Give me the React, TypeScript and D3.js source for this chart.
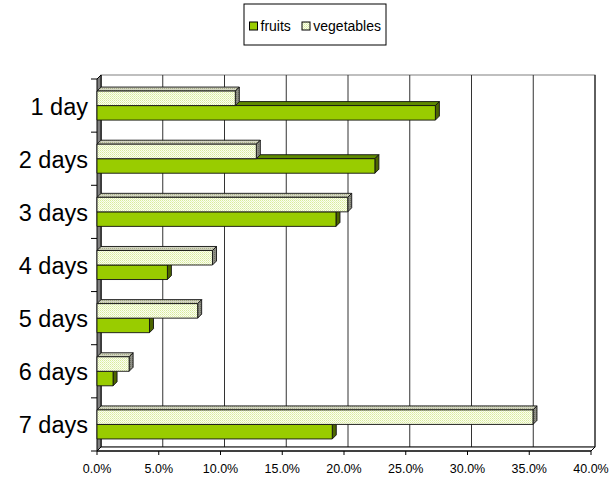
import { scaleBand, scaleLinear, format } from "d3";

// values, in percent
const categories = ["1 day", "2 days", "3 days", "4 days", "5 days", "6 days", "7 days"];
const fruits = [27.4, 22.5, 19.35, 5.7, 4.25, 1.3, 19.05];
const vegetables = [11.2, 12.9, 20.3, 9.35, 8.15, 2.6, 35.3];
const seriesNames = ["vegetables", "fruits"];
const xDomain = [0, 40];

const W = 615;
const H = 478;
const margin = { top: 79, right: 24, bottom: 27, left: 97 };
const depth = 4;

const fmt = format(".1f");

const colors: Record<string, { front: string; top: string; side: string }> = {
  fruits: { front: "#99cc00", top: "#5f8a00", side: "#4d6600" },
  vegetables: { front: "url(#vegFront)", top: "url(#vegTop)", side: "url(#vegSide)" },
};

interface BoxProps {
  x0: number;
  x1: number;
  y: number;
  h: number;
  name: string;
}

// one 3D bar: front, top and right faces
const Box: React.FC<BoxProps> = ({ x0, x1, y, h, name }) => {
  const c = colors[name];
  const d = depth;
  const top = `${x0},${y} ${x0 + d},${y - d} ${x1 + d},${y - d} ${x1},${y}`;
  const side = `${x1},${y} ${x1 + d},${y - d} ${x1 + d},${y + h - d} ${x1},${y + h}`;
  return (
    <g stroke="#111" strokeWidth={0.9} strokeLinejoin="round">
      <polygon points={top} fill={c.top} />
      <polygon points={side} fill={c.side} />
      <rect x={x0} y={y} width={x1 - x0} height={h} fill={c.front} />
    </g>
  );
};

const App = () => {
  const width = W - margin.left - margin.right;
  const height = H - margin.top - margin.bottom;
  const left = margin.left;
  const bottom = margin.top + height;

  const scaleX = scaleLinear().domain(xDomain).range([left, left + width]);
  const scaleY = scaleBand().domain(categories).range([margin.top, bottom]).padding(0);
  const inner = scaleBand()
    .domain(seriesNames)
    .range([0, scaleY.bandwidth()])
    .paddingInner(0)
    .paddingOuter(0.83);

  const ticks = scaleX.ticks(8);
  const boundaries = [...categories.map((c) => scaleY(c) as number), bottom];

  return (
    <svg
      width={W}
      height={H}
      style={{ position: "absolute", left: 0, top: 0, fontFamily: "'Liberation Sans', Arial, sans-serif" }}
    >
      <defs>
        <pattern id="vegFront" width={2} height={2} patternUnits="userSpaceOnUse">
          <rect width={2} height={2} fill="#fbfdf0" />
          <rect width={1} height={1} fill="#d8ec9c" />
          <rect x={1} y={1} width={1} height={1} fill="#e6f3bd" />
        </pattern>
        <pattern id="vegTop" width={2} height={2} patternUnits="userSpaceOnUse">
          <rect width={2} height={2} fill="#d2d4c0" />
          <rect width={1} height={1} fill="#a9b08a" />
        </pattern>
        <pattern id="vegSide" width={2} height={2} patternUnits="userSpaceOnUse">
          <rect width={2} height={2} fill="#8e8e86" />
          <rect width={1} height={1} fill="#6d7160" />
        </pattern>
      </defs>

      {/* back wall */}
      <rect x={left + depth} y={margin.top - depth} width={width} height={height} fill="#fff" stroke="#808080" />
      {ticks.map((t) => (
        <line
          key={`grid-${t}`}
          x1={scaleX(t) + depth}
          x2={scaleX(t) + depth}
          y1={margin.top - depth}
          y2={bottom - depth}
          stroke={t === xDomain[1] ? "#000" : "#333"}
          strokeWidth={1}
        />
      ))}

      {/* floor */}
      <polygon
        points={`${left},${bottom} ${left + depth},${bottom - depth} ${left + width + depth},${bottom - depth} ${left + width},${bottom}`}
        fill="#fff"
        stroke="#000"
        strokeWidth={1}
      />

      {/* left wall */}
      <polygon
        points={`${left},${margin.top} ${left + depth},${margin.top - depth} ${left + depth},${bottom - depth} ${left},${bottom}`}
        fill="#808080"
        stroke="#000"
        strokeWidth={1}
      />

      {/* bars */}
      {categories.map((c, i) => {
        const y0 = scaleY(c) as number;
        const f = { name: "fruits", v: fruits[i] };
        const v = { name: "vegetables", v: vegetables[i] };
        return (
          <g key={`cat-${c}`}>
            {[f, v].map((s) => (
              <Box
                key={`${c}-${s.name}`}
                x0={scaleX(0)}
                x1={scaleX(s.v)}
                y={y0 + (inner(s.name) as number)}
                h={inner.bandwidth()}
                name={s.name}
              />
            ))}
          </g>
        );
      })}

      {/* y axis */}
      {boundaries.map((b, i) => (
        <line key={`ytick-${i}`} x1={left - 6} x2={left} y1={b} y2={b} stroke="#000" />
      ))}
      {categories.map((c) => (
        <text
          key={`ylab-${c}`}
          x={88}
          y={(scaleY(c) as number) + scaleY.bandwidth() / 2 + 9}
          textAnchor="end"
          fontSize={23.5}
          fill="#000"
        >
          {c}
        </text>
      ))}

      {/* x axis */}
      <line x1={left} x2={left + width} y1={bottom} y2={bottom} stroke="#000" strokeWidth={1.2} />
      {ticks.map((t) => (
        <g key={`xtick-${t}`}>
          <line x1={scaleX(t)} x2={scaleX(t)} y1={bottom} y2={bottom + 4} stroke="#000" />
          <text x={scaleX(t)} y={473} textAnchor="middle" fontSize={12.5} fill="#000">
            {fmt(t)}%
          </text>
        </g>
      ))}

      {/* legend */}
      <rect x={244} y={4} width={142} height={41} fill="#fff" stroke="#000" />
      <rect x={249.5} y={22} width={8} height={8} fill={colors.fruits.front} stroke="#000" />
      <text x={260.5} y={31} fontSize={14} fill="#000">fruits</text>
      <rect x={302} y={22} width={8} height={8} fill="url(#vegFront)" stroke="#000" />
      <text x={313.3} y={31} fontSize={14} fill="#000">vegetables</text>
    </svg>
  );
};

export default App;
